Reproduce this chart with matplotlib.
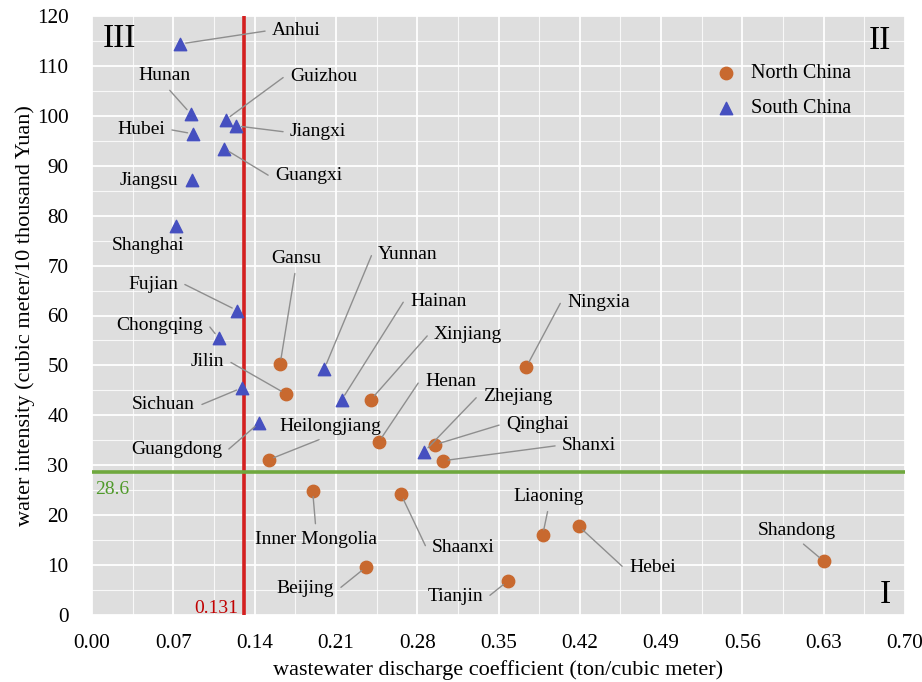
import numpy as np
import matplotlib
matplotlib.use("Agg")
import matplotlib.pyplot as plt
from matplotlib.ticker import MultipleLocator

plt.rcParams["font.family"] = ["Liberation Serif", "DejaVu Serif"]

# provinces: (wastewater discharge coefficient, water intensity)
north_names = ["Gansu", "Jilin", "Xinjiang", "Ningxia", "Henan", "Qinghai", "Shanxi",
               "Heilongjiang", "Inner Mongolia", "Shaanxi", "Beijing", "Tianjin",
               "Liaoning", "Hebei", "Shandong"]
north_x = [0.162, 0.167, 0.240, 0.374, 0.247, 0.295, 0.302, 0.152, 0.190, 0.266,
           0.236, 0.358, 0.388, 0.419, 0.630]
north_y = [50.3, 44.3, 43.1, 49.7, 34.7, 34.1, 30.9, 31.1, 24.8, 24.2, 9.6, 6.8,
           16.0, 17.8, 10.8]

south_names = ["Anhui", "Hunan", "Guizhou", "Jiangxi", "Hubei", "Guangxi", "Jiangsu",
               "Shanghai", "Fujian", "Chongqing", "Sichuan", "Guangdong", "Yunnan",
               "Hainan", "Zhejiang"]
south_x = [0.076, 0.085, 0.115, 0.124, 0.087, 0.114, 0.086, 0.072, 0.125, 0.109,
           0.129, 0.144, 0.200, 0.215, 0.286]
south_y = [114.4, 100.4, 99.2, 98.0, 96.4, 93.4, 87.2, 78.0, 61.0, 55.5, 45.5, 38.5,
           49.3, 43.1, 32.7]

x_mean = 0.131
y_mean = 28.6

# label placement: name -> (text x, text y, anchor side)
#   "L": text to the right of its leader, "R": text to the left,
#   "B": leader leaves from text bottom, "T": from text top, None: no leader
label_pos = {
    "Anhui": (0.155, 117.0, "L"), "Hunan": (0.0624, 108.0, "B"),
    "Guizhou": (0.1705, 107.8, "L"), "Jiangxi": (0.1705, 96.8, "L"),
    "Hubei": (0.0629, 97.2, "R"), "Guangxi": (0.1576, 88.0, "L"),
    "Jiangsu": (0.0740, 87.0, None), "Shanghai": (0.0482, 74.1, None),
    "Fujian": (0.0740, 66.3, "R"), "Chongqing": (0.0956, 57.9, "R"),
    "Jilin": (0.1137, 50.7, "R"), "Sichuan": (0.0887, 42.1, "R"),
    "Guangdong": (0.1119, 33.1, "R"), "Gansu": (0.1756, 71.5, "B"),
    "Yunnan": (0.2463, 72.3, "L"), "Hainan": (0.2738, 62.9, "L"),
    "Xinjiang": (0.2945, 56.1, "L"), "Ningxia": (0.409, 62.7, "L"),
    "Henan": (0.2867, 46.7, "L"), "Heilongjiang": (0.2049, 37.7, "B"),
    "Zhejiang": (0.3367, 43.7, "L"), "Qinghai": (0.3565, 38.1, "L"),
    "Shanxi": (0.4047, 33.9, "L"), "Inner Mongolia": (0.1929, 15.2, "T"),
    "Shaanxi": (0.2928, 13.6, "L"), "Beijing": (0.2084, 5.4, "R"),
    "Tianjin": (0.3367, 3.8, "R"), "Liaoning": (0.3935, 23.8, "B"),
    "Hebei": (0.4624, 9.6, "L"), "Shandong": (0.607, 17.0, "B"),
}

orange = "#c8692f"
blue = "#4650c0"
lead = "#8e8e8e"

fig = plt.figure(figsize=(9.22, 6.82), dpi=100)
fig.subplots_adjust(left=92 / 922, right=905 / 922, top=1 - 16 / 682, bottom=1 - 615 / 682)
ax = fig.add_subplot(111)
ax.set_facecolor("#dedede")

ax.set_xlim(0, 0.70)
ax.set_ylim(0, 120)
ax.xaxis.set_major_locator(MultipleLocator(0.07))
ax.xaxis.set_minor_locator(MultipleLocator(0.035))
ax.yaxis.set_major_locator(MultipleLocator(10))
ax.yaxis.set_minor_locator(MultipleLocator(5))
ax.xaxis.set_major_formatter(plt.FuncFormatter(lambda v, p: f"{v:.2f}"))
ax.grid(which="major", color="white", linewidth=1.3)
ax.grid(which="minor", color="white", linewidth=0.8, alpha=0.8)
ax.set_axisbelow(True)
for s in ax.spines.values():
    s.set_visible(False)
ax.tick_params(which="both", length=0, labelsize=15.2)
ax.tick_params(axis="x", pad=14)
ax.tick_params(axis="y", pad=17)

ax.set_xlabel("wastewater discharge coefficient (ton/cubic meter)", fontsize=16, labelpad=5)
ax.set_ylabel("water intensity (cubic meter/10 thousand Yuan)", fontsize=16, labelpad=1)

ax.axvline(x_mean, color="#d42020", linewidth=2.6, zorder=2)
ax.axhline(y_mean, color="#6fa83e", linewidth=2.6, zorder=2)
ax.text(x_mean - 0.005, 0.5, f"{x_mean:.3f}", color="#c00000", fontsize=14, ha="right", va="baseline")
ax.text(0.003, y_mean - 1.8, f"{y_mean}", color="#4f9a2a", fontsize=14, ha="left", va="top")

ax.scatter(north_x, north_y, s=80, color=orange, marker="o", zorder=4, label="North China")
ax.scatter(south_x, south_y, s=80, color=blue, marker="^", zorder=4, label="South China")

points = dict(zip(north_names, zip(north_x, north_y)))
points.update(zip(south_names, zip(south_x, south_y)))

side_cfg = {
    "L": dict(ha="left", va="center", relpos=(0, 0.5), conn="arc,angleA=180,armA=6,angleB=0,armB=0,rad=0"),
    "R": dict(ha="right", va="center", relpos=(1, 0.5), conn="arc,angleA=0,armA=6,angleB=0,armB=0,rad=0"),
    "B": dict(ha="center", va="center", relpos=(0.5, 0), conn="arc3"),
    "T": dict(ha="center", va="center", relpos=(0.5, 1), conn="arc3"),
}

for name, (tx, ty, side) in label_pos.items():
    px, py = points[name]
    if side is None:
        ha = "right" if name == "Jiangsu" else "center"
        ax.text(tx, ty, name, fontsize=14, ha=ha, va="center", zorder=5)
        continue
    c = side_cfg[side]
    ax.annotate(name, xy=(px, py), xytext=(tx, ty), fontsize=14, ha=c["ha"], va=c["va"],
                zorder=5,
                arrowprops=dict(arrowstyle="-", color=lead, linewidth=1.0, relpos=c["relpos"],
                                shrinkA=3, shrinkB=4, connectionstyle=c["conn"]))

# quadrant numbers
ax.text(0.024, 115.5, "III", fontsize=24, ha="center", va="center")
ax.text(0.6785, 115.0, "II", fontsize=24, ha="center", va="center")
ax.text(0.683, 4.0, "I", fontsize=24, ha="center", va="center")

ax.legend(loc="upper left", bbox_to_anchor=(0.733, 0.95), frameon=False, fontsize=14.5,
          handletextpad=0.25, labelspacing=0.8, markerscale=1.0)

fig.savefig("out.png", dpi=100)
